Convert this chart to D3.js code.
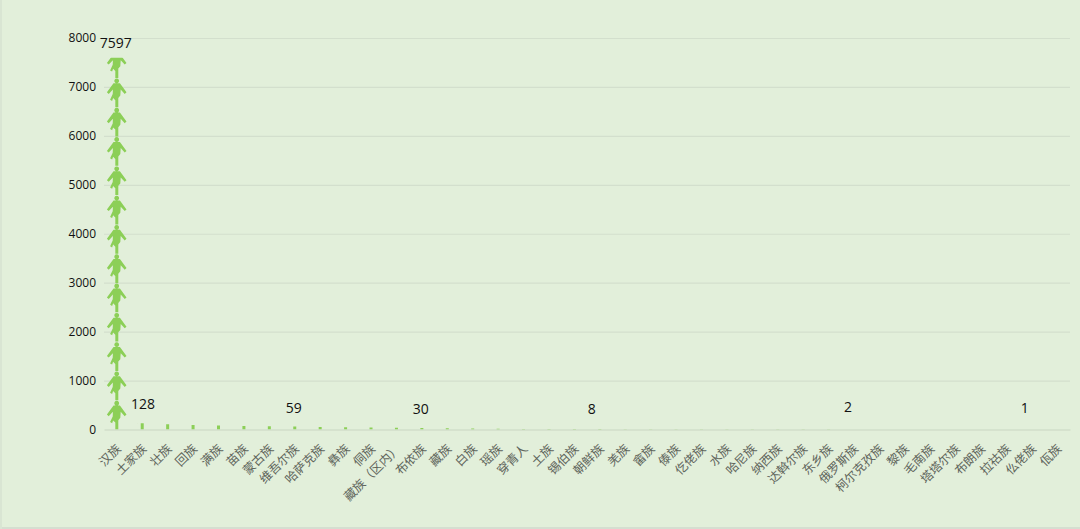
<!DOCTYPE html>
<html><head><meta charset="utf-8">
<script src="https://cdn.jsdelivr.net/npm/d3@7"></script>
<style>html,body{margin:0;padding:0;background:#e2efda;overflow:hidden}</style>
</head><body><svg id="c" width="1080" height="529"></svg>
<script>
const categories=["汉族","土家族","壮族","回族","满族","苗族","蒙古族","维吾尔族","哈萨克族","彝族","侗族","藏族（区内）","布依族","藏族","白族","瑶族","穿青人","土族","锡伯族","朝鲜族","羌族","畲族","傣族","仡佬族","水族","哈尼族","纳西族","达斡尔族","东乡族","俄罗斯族","柯尔克孜族","黎族","毛南族","塔塔尔族","布朗族","拉祜族","仫佬族","佤族"];
const values=[7597,128,105,92,80,72,65,59,52,46,40,35,30,25,20,15,12,11,10,8,7,6,5,4,4,3,3,3,3,2,2,2,2,1,1,1,1,1];
const labelled=["汉族","土家族","维吾尔族","布依族","朝鲜族","俄罗斯族","仫佬族"];
const yTicks=[0,1000,2000,3000,4000,5000,6000,7000,8000];

const W=1080,H=529;
const svg=d3.select("#c");
const x=d3.scaleBand().domain(categories).range([104,1070]);
const y=d3.scaleLinear().domain([0,8000]).range([429.5,38]);
const cx=c=>x(c)+x.bandwidth()/2;
const font='"Noto Sans CJK SC","Noto Sans",sans-serif';

svg.append("rect").attr("width",W).attr("height",H).attr("fill","#e2efda");
svg.append("rect").attr("x",0).attr("y",527).attr("width",W).attr("height",2).attr("fill","#d5ded0");
svg.append("rect").attr("x",0).attr("y",0).attr("width",2).attr("height",H).attr("fill","#d9e5d3");

const gy=svg.append("g").attr("transform","translate(104,0)")
 .call(d3.axisLeft(y).tickValues(yTicks).tickSize(0).tickPadding(8).tickFormat(d3.format("d")));
gy.select(".domain").remove();
gy.selectAll("text").attr("font-family",'"Open Sans",sans-serif').attr("font-size",12).attr("fill","#111");
gy.selectAll(".tick").filter(d=>d>0).append("line").attr("x1",0).attr("x2",966).attr("stroke","#d3dfcd").attr("stroke-width",1.2);

const gx=svg.append("g").attr("transform","translate(0,429.5)")
 .call(d3.axisBottom(x).tickSize(0).tickPadding(0));
gx.select(".domain").attr("stroke","#c9d6c2").attr("stroke-width",1);
gx.selectAll("text").attr("font-family",font).attr("font-size",12.3).attr("fill","#5f655c")
 .attr("text-anchor","end").attr("dy",0)
 .attr("transform","translate(5,20) rotate(-45)");

// one person icon, drawn in a box 20 wide, 29.3 tall, head up, origin top-left
const iconH=29.3, iconW=20;
const icon="M10 0.6a2.4 2.4 0 1 1-0.01 0Z M6.8 5.4H13.2L19.8 14.4L18 16L14 11.6L13.6 17.6L11.6 20V29.3H8.6V22.4L6.4 20.2L5.4 23L3.4 21.8L6 16.2L6.2 11.6L2 16L0.2 14.4Z";

const defs=svg.append("defs");
const bars=svg.append("g");
categories.forEach((c,i)=>{
  const v=values[i], id="clip"+i;
  defs.append("clipPath").attr("id",id).append("rect")
    .attr("x",x(c)).attr("width",x.bandwidth())
    .attr("y",y(v)).attr("height",y(0)-y(v));
  const n=Math.ceil((y(0)-y(v))/iconH);
  bars.append("g").attr("clip-path",`url(#${id})`)
    .selectAll("path").data(d3.range(n)).join("path")
    .attr("d",icon).attr("fill","#8ccf57")
    .attr("transform",k=>`translate(${cx(c)-iconW/2},${y(0)-iconH*(k+1)})`);
});

const labelShift={"汉族":-1,"土家族":1,"维吾尔族":-1,"布依族":-1,"朝鲜族":-8,"俄罗斯族":-6,"仫佬族":-7};
const labelRaise={"汉族":10,"土家族":14,"维吾尔族":14,"布依族":14,"朝鲜族":15,"俄罗斯族":17,"仫佬族":16};
svg.append("g").selectAll("text").data(labelled).join("text")
  .attr("x",c=>cx(c)+labelShift[c])
  .attr("y",c=>y(values[categories.indexOf(c)])-labelRaise[c])
  .attr("text-anchor","middle").attr("font-family",'"Open Sans",sans-serif')
  .attr("font-size",14).attr("fill","#111")
  .text(c=>values[categories.indexOf(c)]);
</script></body></html>
